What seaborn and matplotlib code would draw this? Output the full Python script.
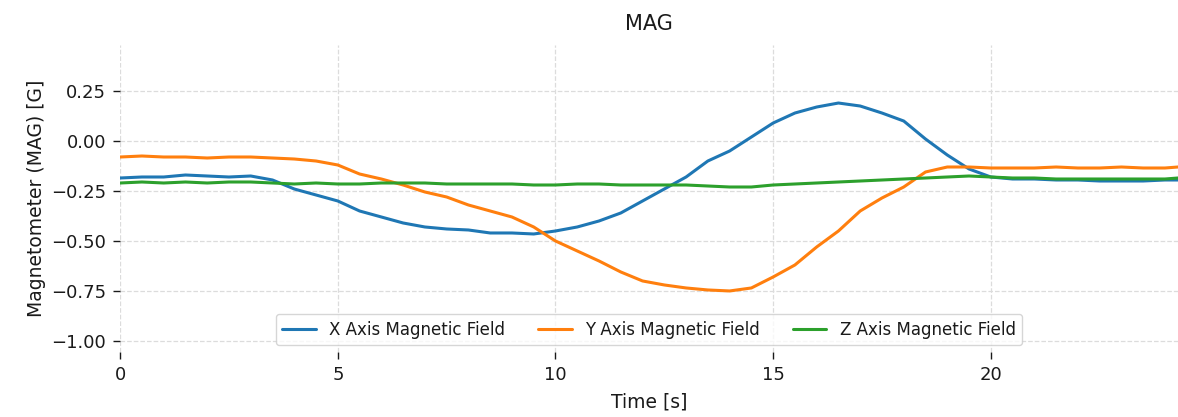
import matplotlib
matplotlib.use("Agg")
import matplotlib.pyplot as plt
import seaborn as sns
import pandas as pd

time_s = [0.0, 0.5, 1.0, 1.5, 2.0, 2.5, 3.0, 3.5, 4.0, 4.5, 5.0, 5.5, 6.0, 6.5, 7.0, 7.5,
          8.0, 8.5, 9.0, 9.5, 10.0, 10.5, 11.0, 11.5, 12.0, 12.5, 13.0, 13.5, 14.0, 14.5,
          15.0, 15.5, 16.0, 16.5, 17.0, 17.5, 18.0, 18.5, 19.0, 19.5, 20.0, 20.5, 21.0,
          21.5, 22.0, 22.5, 23.0, 23.5, 24.0, 24.3]

mag_x = [-0.185, -0.18, -0.18, -0.17, -0.175, -0.18, -0.175, -0.195, -0.24, -0.27,
         -0.30, -0.35, -0.38, -0.41, -0.43, -0.44, -0.445, -0.46, -0.46, -0.465,
         -0.45, -0.43, -0.40, -0.36, -0.30, -0.24, -0.18, -0.10, -0.05, 0.02,
         0.09, 0.14, 0.17, 0.19, 0.175, 0.14, 0.10, 0.01, -0.07, -0.14,
         -0.18, -0.19, -0.19, -0.195, -0.195, -0.20, -0.20, -0.20, -0.195, -0.195]

mag_y = [-0.08, -0.075, -0.08, -0.08, -0.085, -0.08, -0.08, -0.085, -0.09, -0.10,
         -0.12, -0.165, -0.19, -0.22, -0.255, -0.28, -0.32, -0.35, -0.38, -0.43,
         -0.50, -0.55, -0.60, -0.655, -0.70, -0.72, -0.735, -0.745, -0.75, -0.735,
         -0.68, -0.62, -0.53, -0.45, -0.35, -0.285, -0.23, -0.155, -0.13, -0.13,
         -0.135, -0.135, -0.135, -0.13, -0.135, -0.135, -0.13, -0.135, -0.135, -0.13]

mag_z = [-0.21, -0.205, -0.21, -0.205, -0.21, -0.205, -0.205, -0.21, -0.215, -0.21,
         -0.215, -0.215, -0.21, -0.21, -0.21, -0.215, -0.215, -0.215, -0.215, -0.22,
         -0.22, -0.215, -0.215, -0.22, -0.22, -0.22, -0.22, -0.225, -0.23, -0.23,
         -0.22, -0.215, -0.21, -0.205, -0.20, -0.195, -0.19, -0.185, -0.18, -0.175,
         -0.18, -0.185, -0.185, -0.19, -0.19, -0.19, -0.19, -0.19, -0.19, -0.185]

series_names = ["X Axis Magnetic Field", "Y Axis Magnetic Field", "Z Axis Magnetic Field"]
y_ticks = [0.25, 0.0, -0.25, -0.5, -0.75, -1.0]
x_ticks = [0, 5, 10, 15, 20]

df = pd.concat([
    pd.DataFrame({"Time": time_s, "Value": vals, "Series": name})
    for name, vals in zip(series_names, [mag_x, mag_y, mag_z])
], ignore_index=True)

sns.set_theme(style="ticks")
plt.rcParams["font.family"] = ["DejaVu Sans"]
plt.rcParams["text.color"] = "#1a1a1a"
plt.rcParams["axes.labelcolor"] = "#1a1a1a"
plt.rcParams["xtick.color"] = "#1a1a1a"
plt.rcParams["ytick.color"] = "#1a1a1a"

fig = plt.figure(figsize=(11.78, 4.17), dpi=100)
ax = fig.add_axes([0.102, 0.156, 0.898, 0.736])

palette = ["#1f77b4", "#ff7f0e", "#2ca02c"]
sns.lineplot(data=df, x="Time", y="Value", hue="Series", palette=palette,
             linewidth=2.2, ax=ax)

ax.set_xlim(0, 24.3)
ax.set_ylim(-1.055, 0.48)
ax.set_xticks(x_ticks)
ax.set_yticks(y_ticks)
ax.set_yticklabels([f"{v:.2f}".replace("-", "\u2212") for v in y_ticks])
ax.tick_params(axis="both", labelsize=13, length=5, width=1, pad=5)
ax.grid(True, linestyle="--", color="#dcdcdc", linewidth=0.9)
sns.despine(ax=ax, left=True, bottom=True, top=True, right=True)

ax.set_title("MAG", fontsize=15, pad=11)
ax.set_xlabel("Time [s]", fontsize=13.5, labelpad=6)
ax.set_ylabel("Magnetometer (MAG) [G]", fontsize=13.5)

ax.legend(loc="lower center", ncol=3, fontsize=12, frameon=True,
          bbox_to_anchor=(0.5, 0.0), borderaxespad=0.4, columnspacing=2.0,
          handlelength=2.0)

fig.savefig("out.png", dpi=100)
